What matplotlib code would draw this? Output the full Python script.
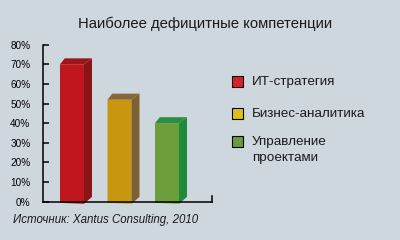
import numpy as np
import matplotlib
matplotlib.use('Agg')
import matplotlib.pyplot as plt
from matplotlib.patches import Polygon, Rectangle

plt.rcParams['font.family'] = ['Liberation Sans', 'DejaVu Sans']

title = 'Наиболее дефицитные компетенции'
categories = ['ИТ-стратегия', 'Бизнес-аналитика', 'Управление\nпроектами']
values = [70, 52, 40]
yticks = [0, 10, 20, 30, 40, 50, 60, 70, 80]
source = 'Источник: Xantus Consulting, 2010'

front_colors = ['#c2161f', '#c9970f', '#6c9f3b']
side_colors = ['#8a1418', '#7d6134', '#1f8a3b']
top_colors = ['#9b161b', '#86663a', '#2a8f40']
legend_colors = ['#d9202b', '#e0c012', '#6a9b3c']
bg = '#cfd7de'

fig = plt.figure(figsize=(4, 2.4), dpi=100, facecolor=bg)
ax = fig.add_axes([43 / 400, 1 - 201.7 / 240, 169 / 400, 157 / 240])
ax.set_facecolor('none')

xs = np.arange(len(values))
width = 0.505
ax.set_xlim(-0.61, 2.947)
ax.set_ylim(0, 80)

# pseudo-3D depth in data units
dx = 8 / 47.5
dy = 6 / (157 / 80)

for x, v, fc, sc, tc in zip(xs, values, front_colors, side_colors, top_colors):
    x0, x1 = x - width / 2, x + width / 2
    ax.add_patch(Polygon([(x0, -0.6), (x1, -1.1), (x1, v), (x0, v)],
                         closed=True, facecolor=fc, edgecolor='none', clip_on=False, zorder=3))
    ax.add_patch(Polygon([(x1, -1.1), (x1 + dx, dy - 0.6), (x1 + dx, v + dy), (x1, v)],
                         closed=True, facecolor=sc, edgecolor='none', clip_on=False, zorder=3))
    ax.add_patch(Polygon([(x0, v), (x1, v), (x1 + dx, v + dy), (x0 + dx * 0.6, v + dy)],
                         closed=True, facecolor=tc, edgecolor='none', clip_on=False, zorder=3))

ax.set_yticks(yticks)
ax.set_yticklabels([f'{t}%' for t in yticks], fontsize=7.2)
ax.set_xticks([])
ax.tick_params(axis='y', direction='in', length=4.5, width=1.1, pad=9, color='black')
ax.spines['top'].set_visible(False)
ax.spines['right'].set_bounds(0, 2.8)
for s in ['left', 'bottom', 'right']:
    ax.spines[s].set_linewidth(1.1)
    ax.spines[s].set_zorder(4)

fig.text(205 / 400, 1 - 24 / 240, title, ha='center', va='center', fontsize=10.7, color='#1a1a1a')

legend_y = [81, 113, 141.5]
for y, label, c in zip(legend_y, categories, legend_colors):
    fig.patches.append(Rectangle((232 / 400, 1 - (y + 5.5) / 240), 11 / 400, 11 / 240,
                                 transform=fig.transFigure, facecolor=c, edgecolor='black', linewidth=0.8))
    fig.text(252 / 400, 1 - (y - 5) / 240, label, ha='left', va='top', fontsize=9.7,
             color='#1a1a1a', linespacing=1.4)

fig.text(13 / 400, 1 - 220 / 240, source, ha='left', va='center', fontsize=8.3,
         style='italic', color='#1a1a1a')

fig.savefig('out.png', dpi=100, facecolor=bg)
